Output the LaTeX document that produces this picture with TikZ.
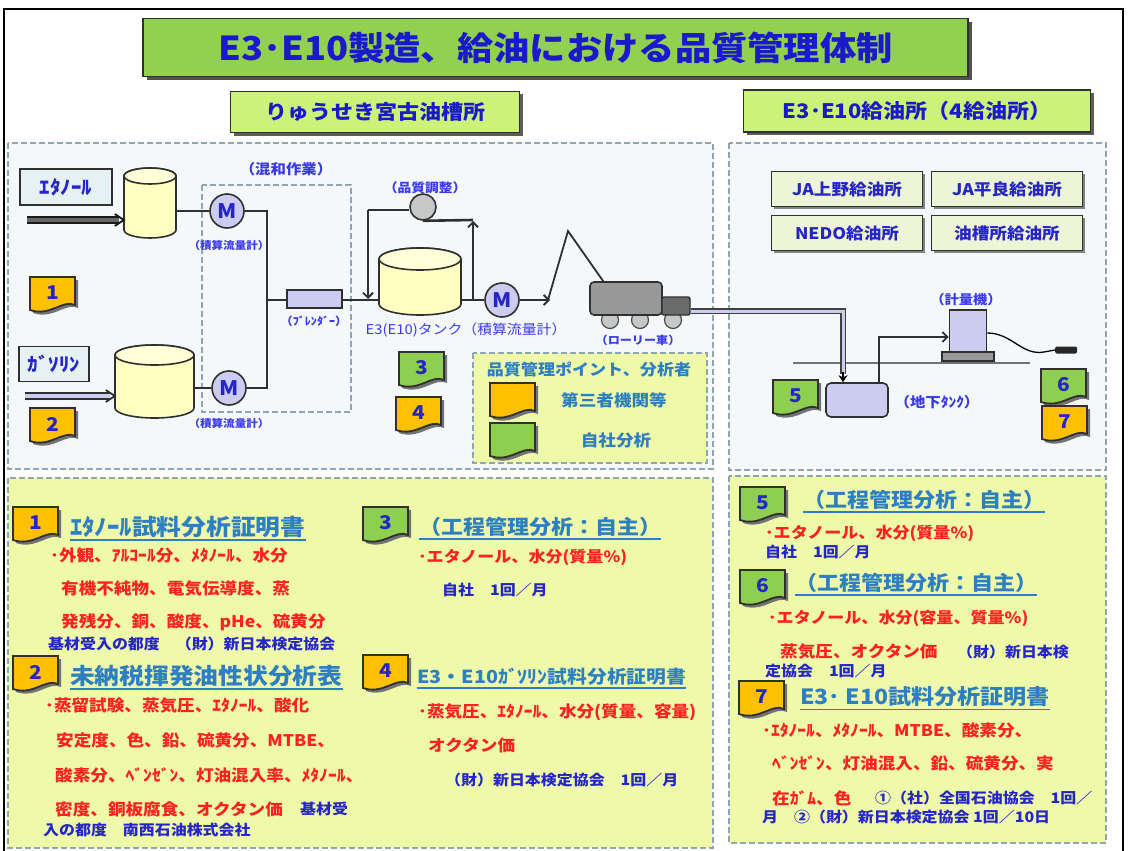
\documentclass[tikz,border=0pt]{standalone}
\usepackage{fontspec}
\newfontfamily\jp{Noto Sans CJK JP}[FakeStretch=1.1]
\usetikzlibrary{calc,arrows.meta,shadows}
\newcommand\fsz[1]{\fontsize{#1}{#1}\selectfont}
\definecolor{titlegreen}{HTML}{92D050}
\definecolor{subgreen}{HTML}{CCF27A}
\definecolor{panelfill}{HTML}{F4F8FB}
\definecolor{paneledge}{HTML}{8FA6AE}
\definecolor{notefill}{HTML}{EEFAAA}
\definecolor{stationfill}{HTML}{EDF5D6}
\definecolor{inputfill}{HTML}{E6F1F4}
\definecolor{tankfill}{HTML}{FFFFC2}
\definecolor{tanktopc}{HTML}{FFFFD8}
\definecolor{lav}{HTML}{CCCCF0}
\definecolor{orangeb}{HTML}{FFC000}
\definecolor{greenb}{HTML}{8FCF4F}
\definecolor{edge}{HTML}{303030}
\definecolor{titleblue}{HTML}{1A1ACC}
\definecolor{lblue}{HTML}{3A3AE8}
\definecolor{tblue}{HTML}{2626C8}
\definecolor{tred}{HTML}{FF2020}
\definecolor{headteal}{HTML}{2E7FC2}
\begin{document}
\begin{tikzpicture}[x=1pt,y=-1pt,
  every node/.style={inner sep=0pt, font=\jp\bfseries},
  panel/.style={draw=paneledge, line width=1.5pt, dash pattern=on 6pt off 3pt},
  pipe/.style={line width=1.8pt, draw=edge},
  arr/.style={-{Straight Barb[length=5pt,width=10pt]}},
  meterc/.style={circle, draw=edge, line width=1.6pt, fill=lav, minimum size=34pt, text=tblue, font=\jp\bfseries\fsz{20}},
  lbl/.style={text=lblue, font=\jp\bfseries\fsz{#1}},
  inbox/.style={draw=edge, line width=1.6pt, fill=inputfill, text=tblue, font=\jp\bfseries\fsz{19}},
  station/.style={draw=edge, line width=1.6pt, fill=stationfill, minimum width=151, minimum height=35, text=tblue, font=\jp\bfseries\fsz{16}, drop shadow={shadow xshift=2pt, shadow yshift=-2pt, fill=black!60, opacity=0.8}},
  subbox/.style={draw=edge, line width=1.6pt, fill=subgreen, text=titleblue, font=\jp\bfseries\fsz{20}, drop shadow={shadow xshift=3pt, shadow yshift=-3pt, fill=black!70, opacity=0.9}},
  head/.style={anchor=west, text=headteal, font=\jp\bfseries\fsz{#1}},
  rnote/.style={anchor=west, text=tred, font=\jp\bfseries\fsz{16}},
  bnote/.style={anchor=west, text=tblue, font=\jp\bfseries\fsz{14.5}},
  badgenum/.style={text=tblue, font=\jp\bfseries\fsz{19}},
  pics/badge/.style 2 args={code={
    \fill[black!55] (3,3) -- (48,3) -- (48,31) .. controls (36,25) and (23,43) .. (3,36) -- cycle;
    \filldraw[draw=edge, line width=1.8pt, fill=#1] (0,0) -- (45,0) -- (45,28) .. controls (33,22) and (20,40) .. (0,33) -- cycle;
    \node[badgenum] (-n) at (22.5,16) {#2};
  }},
  pics/drum/.style n args={3}{code={
    \filldraw[draw=edge, line width=1.6pt, fill=tankfill] (-#1/2,-#2/2+#3) -- (-#1/2,#2/2-#3)
      arc[start angle=180, end angle=0, x radius=#1/2, y radius=#3] -- (#1/2,-#2/2+#3)
      arc[start angle=0, end angle=-180, x radius=#1/2, y radius=#3] -- cycle;
    \filldraw[draw=edge, line width=1.6pt, fill=tanktopc] (0,-#2/2+#3) ellipse[x radius=#1/2, y radius=#3];
    \node[minimum width=#1, minimum height=#2] (-c) at (0,0) {};
  }}
]
\useasboundingbox (0,0) rectangle (1128,851);
\fill[white] (0,0) rectangle (1128,851);

% outer frame
\draw[line width=2.4pt] (4,851) -- (4,9) -- (1123,9) -- (1123,851);

% panels
\filldraw[panel, fill=panelfill] (8,143) rectangle (713,469);
\filldraw[panel, fill=panelfill] (729,143) rectangle (1106,470);
\filldraw[panel, fill=notefill] (8,478) rectangle (713,848);
\filldraw[panel, fill=notefill] (729,476) rectangle (1106,843);

% headings
\node[draw=edge, line width=1.6pt, fill=titlegreen, minimum width=825, minimum height=58,
      text=titleblue, font=\jp\bfseries\fsz{33},
      drop shadow={shadow xshift=4pt, shadow yshift=-4pt, fill=black!75, opacity=0.9}]
      (title) at (555.5,47.5) {E3･E10製造、給油における品質管理体制};
\node[subbox, minimum width=289, minimum height=41] (sub1) at (375,112) {りゅうせき宮古油槽所};
\node[subbox, minimum width=347, minimum height=42] (sub2) at (917,111) {E3･E10給油所（4給油所）};

% ---------- blending plant ----------
\draw[draw=paneledge, line width=1.6pt, dash pattern=on 6pt off 3pt] (202,185) rectangle (351,412);
\node[lbl=14] (mixlbl) at (286,169) {（混和作業）};

\node[inbox, minimum width=92, minimum height=36] (ethbox) at (66,187) {ｴﾀﾉｰﾙ};
\node[inbox, minimum width=70, minimum height=35] (gasbox) at (54,364) {ｶﾞｿﾘﾝ};

\pic (etank) at (150,203) {drum={52}{70}{8}};
\pic (gtank) at (154.5,381.5) {drum={79}{73}{10}};
\pic (e3tank) at (420,281.5) {drum={82}{67}{11}};

% feed arrows
\coordinate (ethin) at (27,220);
\coordinate (gasin) at (25,396);
\draw[line width=1.4pt, draw=black!90, double=black!60, double distance=4.5pt] (ethin) -- ($(ethin -| etank-c.west)+(-5,0)$);
\draw[line width=1.8pt, draw=black!90] ($(ethin -| etank-c.west)+(-9,-6)$) -- (ethin -| etank-c.west) -- ($(ethin -| etank-c.west)+(-9,6)$);
\draw[line width=1.4pt, draw=edge, double=lav, double distance=4.5pt] (gasin) -- ($(gasin -| gtank-c.west)+(-5,0)$);
\draw[line width=1.8pt, draw=edge] ($(gasin -| gtank-c.west)+(-9,-6)$) -- (gasin -| gtank-c.west) -- ($(gasin -| gtank-c.west)+(-9,6)$);

% flow meters and blender
\node[meterc] (m1) at (227,211) {M};
\node[meterc] (m2) at (229,388) {M};
\node[lbl=10.5] (m1lbl) at (229,245) {（積算流量計）};
\node[lbl=10.5] (m2lbl) at (229,423) {（積算流量計）};
\node[draw=edge, line width=1.6pt, fill=lav, minimum width=55, minimum height=18] (blender) at (314.5,299) {};
\node[lbl=11] (blendlbl) at (314,321) {（ﾌﾞﾚﾝﾀﾞｰ）};

\coordinate (jt) at (267,211);
\coordinate (jb) at (267,388);
\coordinate (jm) at (267,300);
\draw[pipe] (etank-c.east |- m1) -- (m1);
\draw[pipe] (gtank-c.east |- m2) -- (m2);
\draw[pipe] (m1) -- (jt) -- (jb) -- (m2);
\draw[pipe] (jm) -- (jm -| blender.west);
\draw[pipe] (jm -| blender.east) -- (jm -| e3tank-c.west);

% quality adjustment loop
\node[circle, draw=edge, line width=1.6pt, fill=black!22, minimum size=26pt] (pump) at (423,207) {};
\node[lbl=12.5] (qlbl) at (425,188) {（品質調整）};
\coordinate (rctop) at (368,210);
\coordinate (rcin) at (368,299);
\coordinate (rcup) at (473,300);
\coordinate (rcright) at (473,220);
\draw[pipe] (rctop -| pump.west) -- (rctop);
\draw[pipe, arr] (rctop) -- (rcin);
\draw[line width=2.6pt, draw=edge] (pump.south) -- (rcright);
\draw[pipe, arr] (rcup) -- ([yshift=-1pt]rcright);

% tank outlet, meter, truck
\node[meterc] (m3) at (502,300) {M};
\node[lbl=13.5, font=\jp\fsz{13.5}] (tanklbl) at (466,330) {E3(E10)タンク（積算流量計）};
\coordinate (hosea) at (550,300);
\coordinate (hoseb) at (568,231);
\draw[pipe] (e3tank-c.east |- m3) -- (m3);
\draw[pipe, arr] (m3) -- (hosea);

\foreach \wx/\wn in {610/w1, 640/w2, 673/w3}
  \node[circle, draw=black!70, line width=1.2pt, fill=black!22, minimum size=17pt] (\wn) at (\wx,320) {};
\node[draw=edge, line width=1.6pt, fill=black!40, rounded corners=4pt, minimum width=72, minimum height=33] (truck) at (626,298.5) {};
\node[draw=edge, line width=1.4pt, fill=black!58, rounded corners=2pt, minimum width=28, minimum height=18] (cab) at (676,306) {};
\draw[pipe] ([xshift=-2pt]hosea) -- (hoseb) -- ([xshift=14pt]truck.north west);
\node[lbl=11] (trucklbl) at (638,340) {（ローリー車）};

% legend
\filldraw[panel, fill=notefill] (473,353) rectangle (707,463);
\node[text=headteal, font=\jp\bfseries\fsz{15.5}] (legtitle) at (589,370) {品質管理ポイント、分析者};
\pic (lego) at (490,383) {badge={orangeb}{}};
\pic (legg) at (490,423) {badge={greenb}{}};
\node[text=headteal, font=\jp\bfseries\fsz{16}] (legotxt) at (614,400) {第三者機関等};
\node[text=headteal, font=\jp\bfseries\fsz{16}] (leggtxt) at (616,440) {自社分析};

% markers in the plant
\pic (b1) at (30,277) {badge={orangeb}{1}};
\pic (b2) at (30,408) {badge={orangeb}{2}};
\pic (b3) at (399,352) {badge={greenb}{3}};
\pic (b4) at (396,397) {badge={orangeb}{4}};

% ---------- filling stations ----------
\node[station] (st1) at (847,189) {JA上野給油所};
\node[station] (st2) at (1007,189) {JA平良給油所};
\node[station] (st3) at (847,233) {NEDO給油所};
\node[station] (st4) at (1007,233) {油槽所給油所};

\draw[line width=1.3pt, draw=black!55] (793,363) -- (1030,363);
\node[draw=edge, line width=1.6pt, fill=lav, rounded corners=5pt, minimum width=62, minimum height=34] (utank) at (857,400) {};
\node[lbl=14] (utanklbl) at (937,402) {（地下ﾀﾝｸ）};
\node[draw=edge, line width=1.6pt, fill=black!40, minimum width=52, minimum height=9] (meterbase) at (968,356.5) {};
\node[draw=edge, line width=1.6pt, fill=lav, minimum width=37, minimum height=42] (meter) at (968,331) {};
\node[lbl=13] (meterlbl) at (966,300) {（計量機）};
\node[fill=black!85, rounded corners=1.5pt, minimum width=22, minimum height=7] (nozzle) at (1066,350) {};

% delivery pipe from the truck
\coordinate (pstart) at ([yshift=-5pt]cab.east);
\coordinate (pcorner) at (843,311);
\coordinate (pend) at (843,374);
\draw[line width=6pt, draw=black!75] (pstart) -- (pcorner) -- (pend);
\draw[line width=3pt, draw=lav] (pstart) -- (pcorner) -- (pend);
\draw[line width=1.2pt, -{Stealth[length=7pt,width=9pt]}] ([yshift=2pt]pend) -- (pend |- utank.north);

\coordinate (uo) at ([xshift=22pt]utank.north);
\draw[pipe, arr] (uo) |- ([yshift=-6pt]meter.west);
\draw[line width=1.3pt] ([yshift=-2pt]meter.east) .. controls (1012,333) and (1022,356) .. (1044,352) -- (nozzle.west);

\pic (b5) at (773,380) {badge={greenb}{5}};
\pic (b6) at (1041,369) {badge={greenb}{6}};
\pic (b7) at (1042,406) {badge={orangeb}{7}};

% ---------- notes: left ----------
\pic (c1) at (13,507) {badge={orangeb}{1}};
\node[head=22.5] (h1) at (70,527) {ｴﾀﾉｰﾙ試料分析証明書};
\draw[headteal, line width=1.3pt] ([yshift=-2pt]h1.south west) -- ([yshift=-2pt]h1.south east);
\node[rnote] (t1a) at (50,555) {･外観、ｱﾙｺｰﾙ分、ﾒﾀﾉｰﾙ、水分};
\node[rnote] (t1b) at (61,589) {有機不純物、電気伝導度、蒸};
\node[rnote] (t1c) at (61,622) {発残分、銅、酸度、pHe、硫黄分};
\node[bnote] (t1d) at (48,644) {基材受入の都度　（財）新日本検定協会};

\pic (c2) at (13,656) {badge={orangeb}{2}};
\node[head=22.5] (h2) at (70,676) {未納税揮発油性状分析表};
\draw[headteal, line width=1.3pt] ([yshift=-2pt]h2.south west) -- ([yshift=-2pt]h2.south east);
\node[rnote] (t2a) at (45,706) {･蒸留試験、蒸気圧、ｴﾀﾉｰﾙ、酸化};
\node[rnote] (t2b) at (56,740) {安定度、色、鉛、硫黄分、MTBE、};
\node[rnote] (t2c) at (55,775) {酸素分、ﾍﾞﾝｾﾞﾝ、灯油混入率、ﾒﾀﾉｰﾙ、};
\node[rnote] (t2d) at (55,809) {密度、銅板腐食、オクタン価};
\node[bnote] (t2e) at (300,809) {基材受};
\node[bnote] (t2f) at (43,830) {入の都度　南西石油株式会社};

% ---------- notes: middle ----------
\pic (c3) at (363,507) {badge={greenb}{3}};
\node[head=20] (h3) at (419,527) {（工程管理分析：自主）};
\draw[headteal, line width=1.3pt] ([yshift=-2pt]h3.south west) -- ([yshift=-2pt]h3.south east);
\node[rnote, font=\jp\bfseries\fsz{15.5}] (t3a) at (418,557) {･エタノール、水分(質量\%)};
\node[bnote] (t3b) at (442,590) {自社　1回／月};

\pic (c4) at (363,655) {badge={orangeb}{4}};
\node[head=18] (h4) at (417,677) {E3・E10ｶﾞｿﾘﾝ試料分析証明書};
\draw[headteal, line width=1.3pt] ([yshift=-2pt]h4.south west) -- ([yshift=-2pt]h4.south east);
\node[rnote] (t4a) at (418,712) {･蒸気圧、ｴﾀﾉｰﾙ、水分(質量、容量)};
\node[rnote] (t4b) at (428,745) {オクタン価};
\node[bnote] (t4c) at (445,780) {（財）新日本検定協会　1回／月};

% ---------- notes: right ----------
\pic (c5) at (740,487) {badge={greenb}{5}};
\node[head=20] (h5) at (803,500) {（工程管理分析：自主）};
\draw[headteal, line width=1.3pt] ([yshift=-2pt]h5.south west) -- ([yshift=-2pt]h5.south east);
\node[rnote, font=\jp\bfseries\fsz{15.5}] (t5a) at (765,533) {･エタノール、水分(質量\%)};
\node[bnote] (t5b) at (765,552) {自社　1回／月};

\pic (c6) at (740,570) {badge={greenb}{6}};
\node[head=20] (h6) at (795,583) {（工程管理分析：自主）};
\draw[headteal, line width=1.3pt] ([yshift=-2pt]h6.south west) -- ([yshift=-2pt]h6.south east);
\node[rnote, font=\jp\bfseries\fsz{15.5}] (t6a) at (768,618) {･エタノール、水分(容量、質量\%)};
\node[rnote] (t6b) at (780,652) {蒸気圧、オクタン価};
\node[bnote] (t6c) at (957,652) {（財）新日本検};
\node[bnote] (t6d) at (765,671) {定協会　1回／月};

\pic (c7) at (739,681) {badge={orangeb}{7}};
\node[head=21] (h7) at (800,697) {E3･ E10試料分析証明書};
\draw[headteal, line width=1.3pt] ([yshift=-2pt]h7.south west) -- ([yshift=-2pt]h7.south east);
\node[rnote] (t7a) at (762,730) {･ｴﾀﾉｰﾙ、ﾒﾀﾉｰﾙ、MTBE、酸素分、};
\node[rnote] (t7b) at (772,763) {ﾍﾞﾝｾﾞﾝ、灯油混入、鉛、硫黄分、実};
\node[rnote] (t7c) at (772,798) {在ｶﾞﾑ、色};
\node[bnote] (t7d) at (875,798) {①（社）全国石油協会　1回／};
\node[bnote] (t7e) at (762,817) {月　②（財）新日本検定協会 1回／10日};
\end{tikzpicture}
\end{document}
